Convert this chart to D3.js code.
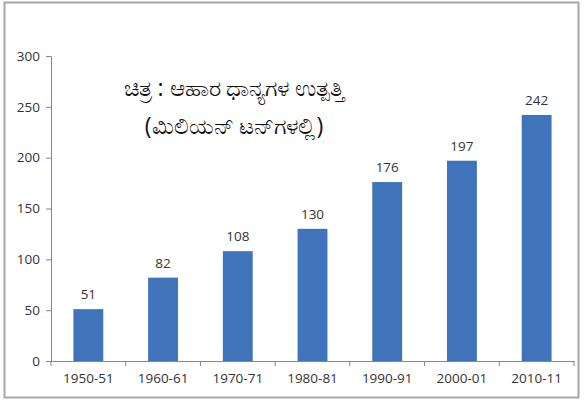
<html>
  <head>
    <meta charset="utf-8">
    <title>Food grain production</title>
    <style>
      body { margin: 0; background: #fff; }
      text { font-family: "Open Sans", "Noto Sans", sans-serif; }
    </style>
  </head>
  <body>
  <script src="https://d3js.org/d3.v7.min.js"></script>
  <script>
    var years = ['1950-51', '1960-61', '1970-71', '1980-81', '1990-91', '2000-01', '2010-11'];
    var production = [51, 82, 108, 130, 176, 197, 242];
    var yTicks = [0, 50, 100, 150, 200, 250, 300];
    var titleLines = ['ಚಿತ್ರ : ಆಹಾರ ಧಾನ್ಯಗಳ ಉತ್ಪತ್ತಿ', '(ಮಿಲಿಯನ್ ಟನ್‌ಗಳಲ್ಲಿ)'];

    var w = 584;
    var h = 403;
    var axisColor = '#8c8580';
    var textColor = '#333';

    var svg = d3.select('body')
                .append('svg')
                .attr('width', w)
                .attr('height', h);

    // outer frame
    svg.append('rect')
       .attr('x', 4.5).attr('y', 2.5)
       .attr('width', 574).attr('height', 395)
       .attr('fill', 'none')
       .attr('stroke', '#a8a8a8')
       .attr('stroke-width', 2);

    var x = d3.scaleBand()
              .domain(years)
              .range([51, 574])
              .paddingInner(0.6)
              .paddingOuter(0.3);

    var y = d3.scaleLinear()
              .domain([0, 300])
              .range([361, 56]);

    // y axis
    var yAxis = svg.append('g')
                   .attr('transform', 'translate(51,0)')
                   .call(d3.axisLeft(y).tickValues(yTicks).tickSize(5).tickPadding(6));
    yAxis.select('.domain').attr('stroke', axisColor);
    yAxis.selectAll('.tick line').attr('stroke', axisColor);
    yAxis.selectAll('.tick text')
         .attr('fill', textColor)
         .style('font-size', '13.5px');

    // x axis with ticks between categories
    var xAxis = svg.append('g')
                   .attr('transform', 'translate(0,361)')
                   .call(d3.axisBottom(x).tickSize(0).tickPadding(12));
    xAxis.select('.domain').attr('stroke', axisColor);
    xAxis.selectAll('.tick text')
         .attr('fill', textColor)
         .style('font-size', '13.5px');

    var bounds = d3.range(years.length + 1).map(function(i) { return 51 + i * x.step(); });
    xAxis.selectAll('.sep')
         .data(bounds)
         .enter()
         .append('line')
         .attr('class', 'sep')
         .attr('x1', d => d).attr('x2', d => d)
         .attr('y1', 0).attr('y2', 5)
         .attr('stroke', axisColor);

    // bars
    svg.selectAll('rect.bar')
       .data(production)
       .enter()
       .append('rect')
       .attr('class', 'bar')
       .attr('x', (d, i) => x(years[i]))
       .attr('y', d => y(d))
       .attr('width', x.bandwidth())
       .attr('height', d => y(0) - y(d))
       .attr('fill', '#3f74bb');

    // value labels
    svg.selectAll('text.val')
       .data(production)
       .enter()
       .append('text')
       .attr('class', 'val')
       .attr('x', (d, i) => x(years[i]) + x.bandwidth() / 2)
       .attr('y', d => y(d) - 10)
       .attr('text-anchor', 'middle')
       .attr('fill', textColor)
       .style('font-size', '13.5px')
       .text(d => d);

    // title
    svg.selectAll('text.title')
       .data(titleLines)
       .enter()
       .append('text')
       .attr('class', 'title')
       .attr('x', 234)
       .attr('y', (d, i) => 96 + i * 38)
       .attr('text-anchor', 'middle')
       .attr('fill', '#111')
       .style('font-size', '23px')
       .text(d => d);
  </script>
  </body>
</html>
